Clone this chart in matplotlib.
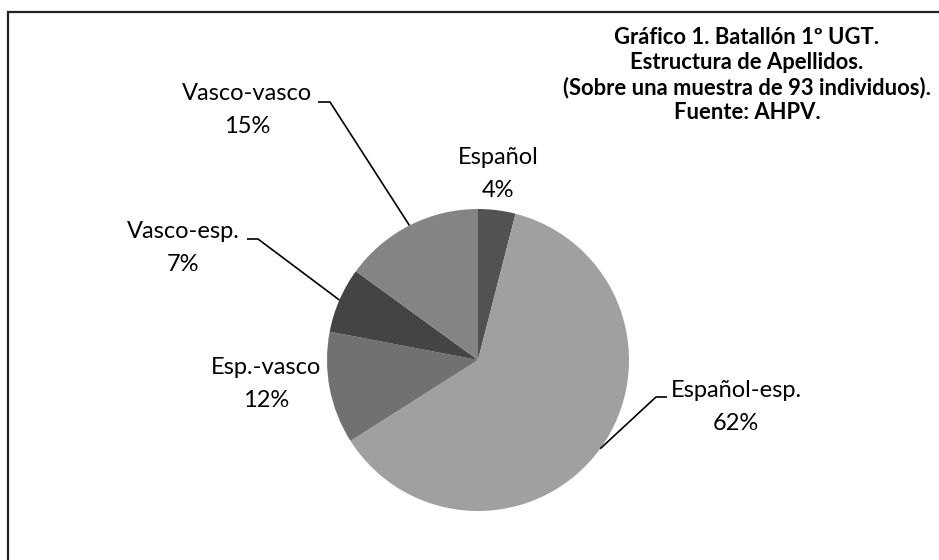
import matplotlib
matplotlib.use("Agg")
import matplotlib.pyplot as plt
from matplotlib.patches import Rectangle
import numpy as np

categories = ["Español", "Español-esp.", "Esp.-vasco", "Vasco-esp.", "Vasco-vasco"]
percent = [4, 62, 12, 7, 15]
colors = ["#525252", "#a0a0a0", "#717171", "#444444", "#848484"]
title = ("Gráfico 1. Batallón 1º UGT.\nEstructura de Apellidos.\n"
         "(Sobre una muestra de 93 individuos).\nFuente: AHPV.")

W, H = 939, 560
FONT = "Lato"

fig = plt.figure(figsize=(W / 100, H / 100), dpi=100)
ax = fig.add_axes([0, 0, 1, 1])

cx, cy, r = 478, H - 360, 151
wedges, _ = ax.pie(percent, colors=colors, startangle=90, counterclock=False,
                   center=(cx, cy), radius=r, frame=True,
                   wedgeprops=dict(linewidth=0))
ax.set_xlim(0, W)
ax.set_ylim(0, H)
ax.set_aspect("equal")
ax.axis("off")

# frame (top and left visible)
ax.add_patch(Rectangle((8, -20), 1000, H - 12 + 20, fill=False,
                       edgecolor="#222222", linewidth=1.6, clip_on=False))

ax.text(747, H - 75, title, ha="center", va="center", fontsize=15.8,
        fontweight="bold", family=FONT, linespacing=1.2, color="black")

# label positions (pixel coords, y from top), and elbow ends for leaders
label_pos = {
    "Español": (498, 174, None),
    "Español-esp.": (736, 407, (656, 397, 667)),
    "Esp.-vasco": (266, 384, None),
    "Vasco-esp.": (183, 248, (258, 239, 247)),
    "Vasco-vasco": (247, 110, (330, 102, 318)),
}

for w, cat, p in zip(wedges, categories, percent):
    lx, ly, leader = label_pos[cat]
    ax.text(lx, H - ly, f"{cat}\n{p}%", ha="center", va="center",
            fontsize=17, family=FONT, linespacing=1.68, color="black")
    if leader is not None:
        ang = np.deg2rad((w.theta1 + w.theta2) / 2)
        px, py = cx + r * np.cos(ang), cy + r * np.sin(ang)
        ex, ey, tx = leader
        ax.plot([px, ex, tx], [py, H - ey, H - ey], color="black", lw=1.2,
                solid_capstyle="butt")

fig.savefig("out.png", dpi=100, facecolor="white")
